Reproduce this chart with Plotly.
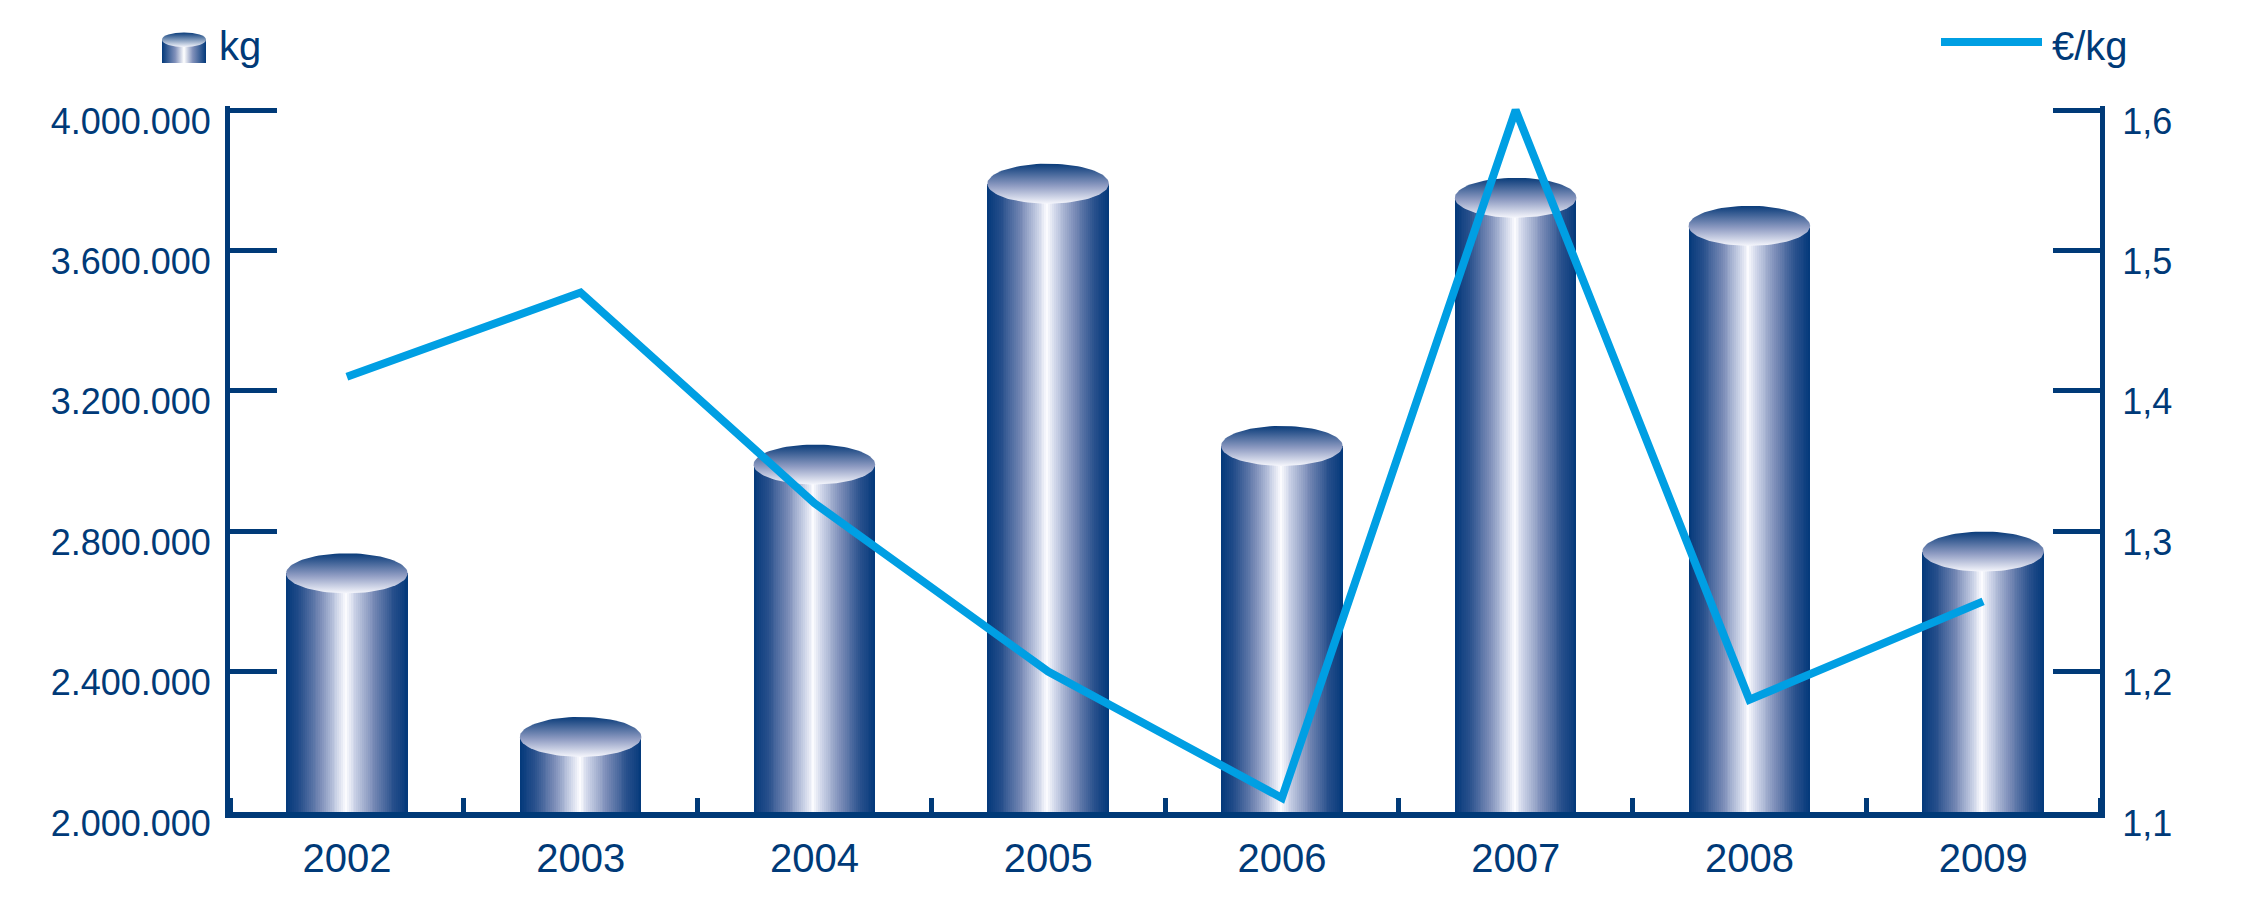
import base64
import numpy as np
import plotly.graph_objects as go

# ---------------- data ----------------
years = ["2002", "2003", "2004", "2005", "2006", "2007", "2008", "2009"]
kg_values = [2680000, 2214000, 2990000, 3790000, 3043000, 3750000, 3670000, 2742000]
eur_per_kg = [1.41, 1.47, 1.32, 1.20, 1.11, 1.60, 1.18, 1.25]
kg_ticks = [2000000, 2400000, 2800000, 3200000, 3600000, 4000000]
eur_ticks = [1.1, 1.2, 1.3, 1.4, 1.5, 1.6]
legend_kg = "kg"
legend_eur = "€/kg"

# ---------------- style ----------------
W, H = 2250, 901
M_L, M_R, M_T, M_B = 230, 150, 106, 89
PLOT_W = W - M_L - M_R
PLOT_H = H - M_T - M_B
TICK_SPAN_PX = 702          # pixels between lowest and highest tick
AXIS_C = "#003a78"
TEXT_C = "#003a78"
LINE_C = "#009fe3"
FONT = "Liberation Sans, Arial, sans-serif"
FS_Y = 36
FS_X = 40
FS_LEG = 40
BAR_W = 0.52
N_STRIPES = 64
ELL_H_PX = 20

y_lo = kg_ticks[0]
y_hi = kg_ticks[0] + (kg_ticks[-1] - kg_ticks[0]) * PLOT_H / TICK_SPAN_PX
y2_lo = eur_ticks[0]
y2_hi = eur_ticks[0] + (eur_ticks[-1] - eur_ticks[0]) * PLOT_H / TICK_SPAN_PX
ell_h = ELL_H_PX * (y_hi - y_lo) / PLOT_H

body_stops = [
    (0.00, (3, 57, 122)),
    (0.12, (40, 80, 140)),
    (0.28, (120, 138, 182)),
    (0.42, (205, 212, 232)),
    (0.49, (252, 252, 255)),
    (0.56, (205, 212, 232)),
    (0.72, (120, 138, 182)),
    (0.88, (40, 80, 140)),
    (1.00, (3, 57, 122)),
]


def body_color(t):
    for (p0, c0), (p1, c1) in zip(body_stops[:-1], body_stops[1:]):
        if p0 <= t <= p1:
            f = (t - p0) / (p1 - p0)
            c = [round(a + (b - a) * f) for a, b in zip(c0, c1)]
            return "rgb(%d,%d,%d)" % tuple(c)
    return "rgb(3,57,122)"


x_idx = list(range(len(years)))
fig = go.Figure()

# cylinder bodies: overlapping bar stripes give a horizontal gradient
for k in range(N_STRIPES):
    left = -BAR_W / 2 + k * BAR_W / N_STRIPES
    fig.add_trace(go.Bar(
        x=x_idx, y=kg_values, offset=left, width=BAR_W / 2 - left,
        marker=dict(color=body_color((k + 0.5) / N_STRIPES), line=dict(width=0)),
        showlegend=False, hoverinfo="skip" if k else "y", name=legend_kg,
    ))

# cylinder tops: ellipses with vertical gradient
t = np.linspace(0, 2 * np.pi, 90)
for xi, v in zip(x_idx, kg_values):
    fig.add_trace(go.Scatter(
        x=xi + BAR_W / 2 * np.cos(t), y=v + ell_h * np.sin(t),
        mode="lines", fill="toself", line=dict(width=0, color="rgba(0,0,0,0)"),
        fillgradient=dict(type="vertical",
                          colorscale=[[0, "#f5f6fc"], [0.45, "#8e9bc2"], [1, "#0a3c7a"]]),
        showlegend=False, hoverinfo="skip",
    ))

# price line
fig.add_trace(go.Scatter(
    x=x_idx, y=eur_per_kg, yaxis="y2", mode="lines",
    line=dict(color=LINE_C, width=8), name=legend_eur, showlegend=False,
))


def px_x(p):
    return (p - M_L) / PLOT_W


def px_y(p):
    return (H - M_B - p) / PLOT_H


# legend icon (small cylinder) as inline svg
svg = (
    "<svg xmlns='http://www.w3.org/2000/svg' width='44' height='32' viewBox='0 0 44 32'>"
    "<defs><linearGradient id='b' x1='0' x2='1' y1='0' y2='0'>"
    "<stop offset='0' stop-color='#03397a'/><stop offset='0.3' stop-color='#8090ba'/>"
    "<stop offset='0.5' stop-color='#ffffff'/><stop offset='0.7' stop-color='#8090ba'/>"
    "<stop offset='1' stop-color='#03397a'/></linearGradient>"
    "<linearGradient id='t' x1='0' x2='0' y1='0' y2='1'>"
    "<stop offset='0' stop-color='#0a3c7a'/><stop offset='1' stop-color='#f3f4fb'/></linearGradient></defs>"
    "<rect x='0' y='8' width='44' height='24' fill='url(#b)'/>"
    "<ellipse cx='22' cy='8' rx='22' ry='7.5' fill='url(#t)'/></svg>"
)
src = "data:image/svg+xml;base64," + base64.b64encode(svg.encode()).decode()

fig.update_layout(
    width=W, height=H,
    margin=dict(l=M_L, r=M_R, t=M_T, b=M_B, autoexpand=False),
    paper_bgcolor="white", plot_bgcolor="white",
    barmode="overlay", bargap=0,
    separators=",.",
    font=dict(family=FONT, size=FS_X, color=TEXT_C),
    showlegend=False,
    xaxis=dict(
        range=[-0.5, len(years) - 0.5], tickmode="array", tickvals=x_idx, ticktext=years,
        ticks="", showline=True, linewidth=6, linecolor=AXIS_C, showgrid=False,
        zeroline=False, ticklabelstandoff=6,
        tickfont=dict(family=FONT, size=FS_X, color=TEXT_C),
        minor=dict(ticks="inside", tickmode="linear", tick0=-0.5, dtick=1,
                   ticklen=14, tickwidth=5, tickcolor=AXIS_C, showgrid=False),
    ),
    yaxis=dict(
        range=[y_lo, y_hi], tickmode="array", tickvals=kg_ticks, tickformat=",d",
        ticks="inside", ticklen=47, tickwidth=5, tickcolor=AXIS_C,
        showline=True, linewidth=5, linecolor=AXIS_C, showgrid=False, zeroline=False,
        ticklabelstandoff=7, ticklabelshift=11,
        tickfont=dict(family=FONT, size=FS_Y, color=TEXT_C),
    ),
    yaxis2=dict(
        range=[y2_lo, y2_hi], tickmode="array", tickvals=eur_ticks, tickformat=".1f",
        overlaying="y", side="right",
        ticks="inside", ticklen=47, tickwidth=5, tickcolor=AXIS_C,
        showline=True, linewidth=5, linecolor=AXIS_C, showgrid=False, zeroline=False,
        ticklabelstandoff=10, ticklabelshift=11,
        tickfont=dict(family=FONT, size=FS_Y, color=TEXT_C),
    ),
    images=[dict(source=src, xref="paper", yref="paper",
                 x=px_x(162), y=px_y(32), sizex=44 / PLOT_W, sizey=31 / PLOT_H,
                 xanchor="left", yanchor="top", sizing="stretch", layer="above")],
    shapes=[dict(type="line", xref="paper", yref="paper",
                 x0=px_x(1941), x1=px_x(2042), y0=px_y(42), y1=px_y(42),
                 line=dict(color=LINE_C, width=8))],
    annotations=[
        dict(text=legend_kg, xref="paper", yref="paper", x=px_x(217), y=px_y(46),
             xanchor="left", yanchor="middle", showarrow=False,
             font=dict(family=FONT, size=FS_LEG, color=TEXT_C)),
        dict(text=legend_eur, xref="paper", yref="paper", x=px_x(2050), y=px_y(46),
             xanchor="left", yanchor="middle", showarrow=False,
             font=dict(family=FONT, size=FS_LEG, color=TEXT_C)),
    ],
)

fig.write_html("out.html", config={"displayModeBar": False},
               post_script="document.body.style.margin='0';")
